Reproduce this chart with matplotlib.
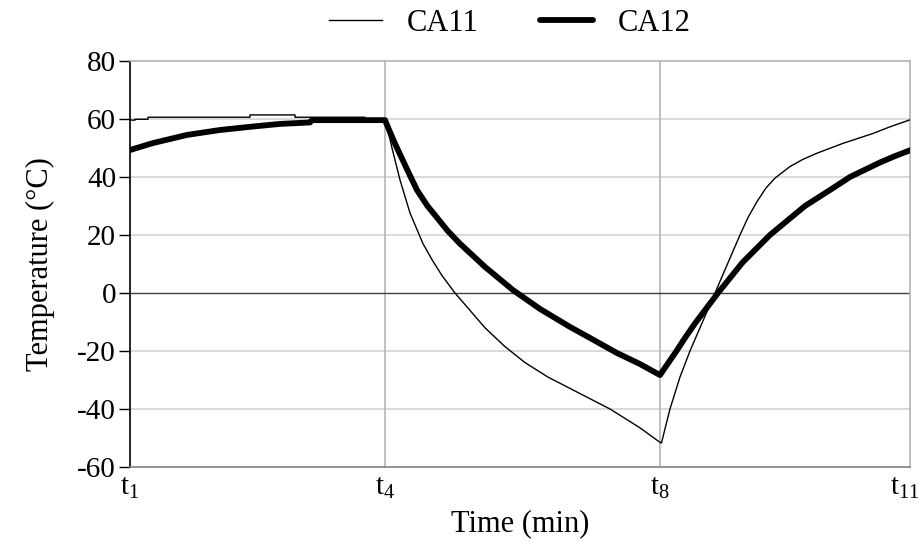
import matplotlib
matplotlib.use("Agg")
import matplotlib.pyplot as plt
from matplotlib.transforms import ScaledTranslation

plt.rcParams['font.family'] = ['Liberation Serif', 'DejaVu Serif']
plt.rcParams['mathtext.fontset'] = 'custom'
plt.rcParams['mathtext.rm'] = 'Liberation Serif'
plt.rcParams['mathtext.it'] = 'Liberation Serif'
plt.rcParams['axes.unicode_minus'] = False

# time axis in arbitrary minutes, t1..t11 marked
tick_pos = [0, 51, 106, 156]
tick_lab = [r'$\mathrm{t_{1}}$', r'$\mathrm{t_{4}}$', r'$\mathrm{t_{8}}$', r'$\mathrm{t_{11}}$']

# CA11 thin line
ca11_x = [0, 1, 1, 3.6, 3.6, 24, 24, 33, 33, 47, 47, 51,
          51.6, 52.4, 54, 56, 58.6, 60.4, 62.4, 65, 68, 71, 75, 79, 83.6, 89, 96, 102, 106,
          106.3, 108, 110, 112, 114.5, 117, 119.5, 122, 123.6, 125.4, 127.2, 129, 132,
          134.5, 137.4, 142.6, 148.6, 152, 156]
ca11_y = [59.6, 59.6, 59.9, 59.9, 60.6, 60.6, 61.4, 61.4, 60.6, 60.6, 60.1, 60.1,
          56, 50, 39, 27.6, 17, 11.5, 6, 0, -6, -12, -18.5, -24, -29, -33.8, -40, -46.5, -51.5,
          -51.7, -40, -29, -20, -10, 0, 10, 20, 26, 31.5, 36.2, 39.6, 43.6,
          46, 48.2, 51.6, 55, 57.3, 59.7]

# CA12 thick line
ca12_x = [0, 4.6, 11.4, 18, 24.6, 30, 36, 36.4, 51,
          52, 53, 54.5, 56, 57.4, 59.5, 61.4, 63.5, 66, 71, 76.6, 82, 88, 92, 97.4, 102, 106,
          109.3, 111, 113, 117.6, 122.5, 128, 135, 140, 144, 150, 153, 156]
ca12_y = [49.3, 51.7, 54.5, 56.2, 57.4, 58.3, 58.8, 59.6, 59.6,
          55.5, 51.5, 46, 40.5, 35.5, 30, 26, 21.5, 17, 9, 1, -5.5, -11.7, -15.5, -20.7, -24.5, -28.3,
          -20, -15.5, -10.5, 0, 10.5, 20, 30, 35.5, 40, 45, 47.2, 49.2]

fig = plt.figure(figsize=(9.2, 5.42), dpi=100)
ax = fig.add_axes([0.1413, 0.1384, 0.8478, 0.7491])

ax.axhline(0, color='#404040', lw=1.0, zorder=1)
for yv in [-40, -20, 20, 40, 60]:
    ax.axhline(yv, color='#d3d3d3', lw=1.2, zorder=0)
for xv in tick_pos[1:3]:
    ax.axvline(xv, color='#b4b4b4', lw=1.2, zorder=0)

ax.plot(ca11_x, ca11_y, color='black', lw=1.0, label='CA11', zorder=3)
ax.plot(ca12_x, ca12_y, color='black', lw=4.2, label='CA12', zorder=4,
        solid_joinstyle='round', solid_capstyle='round')

ax.set_xlim(tick_pos[0], tick_pos[-1])
ax.set_ylim(-60, 80)
ax.set_yticks(range(-60, 81, 20))
ax.set_xticks(tick_pos)
ax.set_xticklabels(tick_lab)
ax.tick_params(axis='y', labelsize=21, length=8, direction='out', width=1, pad=2)
ax.tick_params(axis='x', labelsize=21, length=0, pad=6)
last = ax.get_xticklabels()[-1]
last.set_transform(last.get_transform() + ScaledTranslation(-4 / 72, 0, fig.dpi_scale_trans))

ax.spines['left'].set_color('black')
ax.spines['bottom'].set_color('#808080')
ax.spines['top'].set_color('#b4b4b4')
ax.spines['right'].set_color('#b4b4b4')
for s in ax.spines.values():
    s.set_linewidth(1.2)

ax.set_ylabel('Temperature (°C)', fontsize=22, labelpad=16)
ax.set_xlabel('Time (min)', fontsize=22, labelpad=6)

fig.legend(loc='center', bbox_to_anchor=(0.554, 0.957), ncol=2, frameon=False,
           fontsize=22, handlelength=1.75, columnspacing=2.0, handletextpad=0.8)

fig.savefig('out.png', dpi=100)
